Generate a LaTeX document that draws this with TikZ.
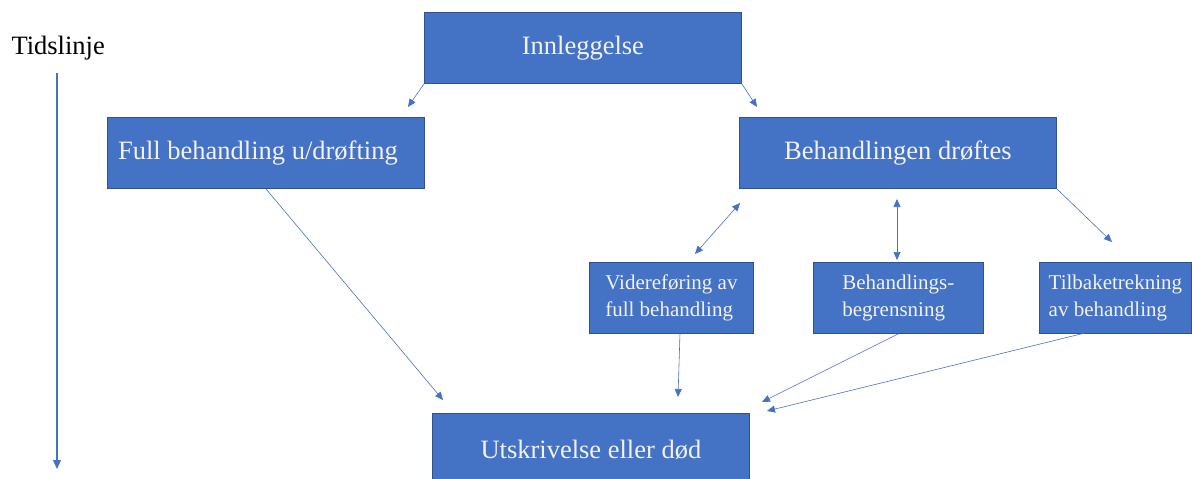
\documentclass[tikz,border=0pt]{standalone}
\usepackage{fontspec}
\setmainfont{Liberation Serif}
\usetikzlibrary{arrows.meta}
\definecolor{boxblue}{HTML}{4472C4}
\definecolor{boxedge}{HTML}{2F528F}
\definecolor{boxtext}{HTML}{F2F2F2}
\begin{document}
\begin{tikzpicture}[x=1pt,y=-1pt,
  box/.style={draw=boxedge, line width=0.8pt, fill=boxblue, text=boxtext, inner sep=0pt, anchor=north west},
  big/.style={box, font=\fontsize{26.5}{32}\selectfont},
  small/.style={box, font=\fontsize{21}{27.5}\selectfont, align=left},
  conn/.style={draw=boxblue, line width=0.6pt, -{Triangle[length=8pt,width=7pt]}},
  dconn/.style={draw=boxblue, line width=0.6pt, {Triangle[length=8pt,width=7pt]}-{Triangle[length=8pt,width=7pt]}}]
\useasboundingbox (0,0) rectangle (1192,479);
\node[anchor=west, font=\fontsize{26.5}{32}\selectfont] (tid) at (8,48) {Tidslinje};
\node[big, minimum width=317pt, minimum height=71pt] (inn) at (424,12) {Innleggelse};
\node[big, minimum width=317pt, minimum height=71pt] (full) at (107,117) {Full behandling u/drøfting\hspace*{16pt}};
\node[big, minimum width=317pt, minimum height=71pt] (dr) at (739,117) {Behandlingen drøftes};
\node[small, minimum width=164pt, minimum height=71pt] (vid) at (589,262) {Videreføring av\\full behandling};
\node[small, minimum width=170pt, minimum height=71pt] (beg) at (813,262) {Behandlings-\\begrensning};
\node[small, minimum width=152pt, minimum height=71pt] (til) at (1039,262) {Tilbaketrekning\\av behandling};
\node[big, minimum width=317pt, minimum height=72pt] (ut) at (432,413) {Utskrivelse eller død};
% free ends
\coordinate (t1) at (57,73);
\coordinate (t2) at (57,469);
\coordinate (a1) at (408,107);
\coordinate (a2) at (757,107);
\coordinate (a3) at (443,400);
\coordinate (v1) at (695,254);
\coordinate (v2) at (740,203);
\coordinate (b1) at (897,199);
\coordinate (b2) at (897,260);
\coordinate (c1) at (1112,242);
\coordinate (vs) at (680,333);
\coordinate (ve) at (678,397);
\coordinate (be) at (762,402);
\coordinate (ts) at (1085,333);
\coordinate (te) at (767,411);
% connectors
\draw[conn, line width=1.2pt, -{Triangle[length=9pt,width=8pt]}] (t1) -- (t2);
\draw[conn] (inn.south west) -- (a1);
\draw[conn] (inn.south east) -- (a2);
\draw[conn] (full.south) -- (a3);
\draw[dconn] (v1) -- (v2);
\draw[dconn] (b1) -- (b2);
\draw[conn] (dr.south east) -- (c1);
\draw[conn] (vs) -- (ve);
\draw[conn] (beg.south) -- (be);
\draw[conn] (ts) -- (te);
\end{tikzpicture}
\end{document}
